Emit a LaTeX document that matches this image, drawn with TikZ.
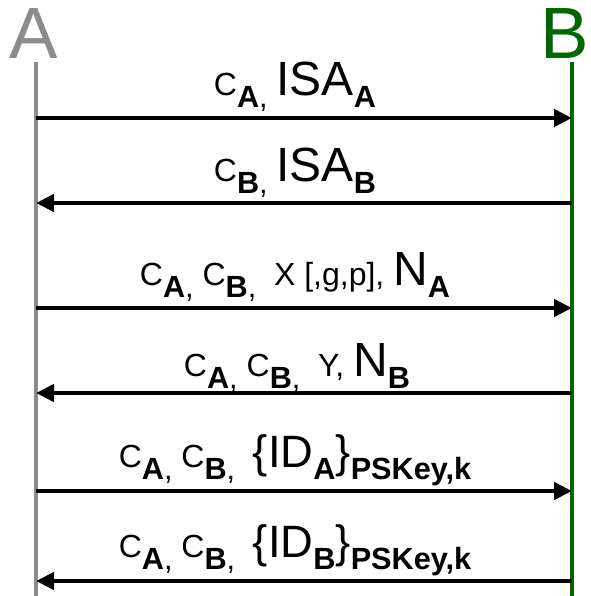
\documentclass[tikz,border=0pt]{standalone}
\usepackage{fontspec}
\setmainfont{Liberation Sans}
\usetikzlibrary{arrows.meta}
\definecolor{lifeA}{RGB}{140,140,140}
\definecolor{lifeB}{RGB}{0,102,0}
% text sizes
\newcommand\msgsmall{\fontsize{24pt}{24pt}\selectfont}
\newcommand\msgbig{\fontsize{36pt}{36pt}\selectfont}
\newcommand\msgid{\fontsize{34pt}{34pt}\selectfont}
\newcommand\subsize{\fontsize{23pt}{23pt}\selectfont}
% bold lowered subscript, and the same followed by a plain comma
\newcommand\lowsub[1]{\raisebox{-9.5pt}{\subsize\bfseries #1}}
\newcommand\csub[1]{\raisebox{-9.5pt}{\subsize\textbf{#1},}}
\begin{document}
\begin{tikzpicture}[x=0.75pt,y=-0.75pt,
  party/.style={inner sep=0pt,anchor=north,font=\fontsize{54.5pt}{54.5pt}\selectfont},
  life/.style={line width=3.4pt},
  msg/.style={line width=3.6pt,-{Triangle[length=13.5pt,width=12.75pt]}},
  lbl/.style={inner sep=0pt,anchor=base}]
\useasboundingbox (0,0) rectangle (590,596);
% parties
\node[party,text=lifeA] (A) at (34,8) {A};
\node[party,text=lifeB] (B) at (565,8) {B};
\coordinate (Atop) at (36,62);
\coordinate (Abot) at (36,596);
\coordinate (Btop) at (572,62);
\coordinate (Bbot) at (572,596);
\draw[life,lifeA] (Atop) -- (Abot);
\draw[life,lifeB] (Btop) -- (Bbot);
% message endpoints on both lifelines
\foreach \i/\y in {1/118,2/203,3/308,4/393,5/491,6/581}{
  \coordinate (a\i) at (36,\y);
  \coordinate (b\i) at (572,\y);
}
\draw[msg] (a1) -- (b1);
\draw[msg] (b2) -- (a2);
\draw[msg] (a3) -- (b3);
\draw[msg] (b4) -- (a4);
\draw[msg] (a5) -- (b5);
\draw[msg] (b6) -- (a6);
% message labels
\node[lbl] (l1) at (295,95) {\msgsmall C\csub{A} \msgbig ISA\lowsub{A}};
\node[lbl] (l2) at (295,181) {\msgsmall C\csub{B} \msgbig ISA\lowsub{B}};
\node[lbl] (l3) at (295,285) {\msgsmall C\csub{A} C\csub{B} \ X [,g,p], \msgbig N\lowsub{A}};
\node[lbl] (l4) at (297,376) {\msgsmall C\csub{A} C\csub{B} \ Y, \msgbig N\lowsub{B}};
\node[lbl] (l5) at (295,467) {\msgsmall C\csub{A} C\csub{B} \ \msgid\{ID\lowsub{A}\}\lowsub{PSKey,k}};
\node[lbl] (l6) at (295,557) {\msgsmall C\csub{A} C\csub{B} \ \msgid\{ID\lowsub{B}\}\lowsub{PSKey,k}};
\end{tikzpicture}
\end{document}
